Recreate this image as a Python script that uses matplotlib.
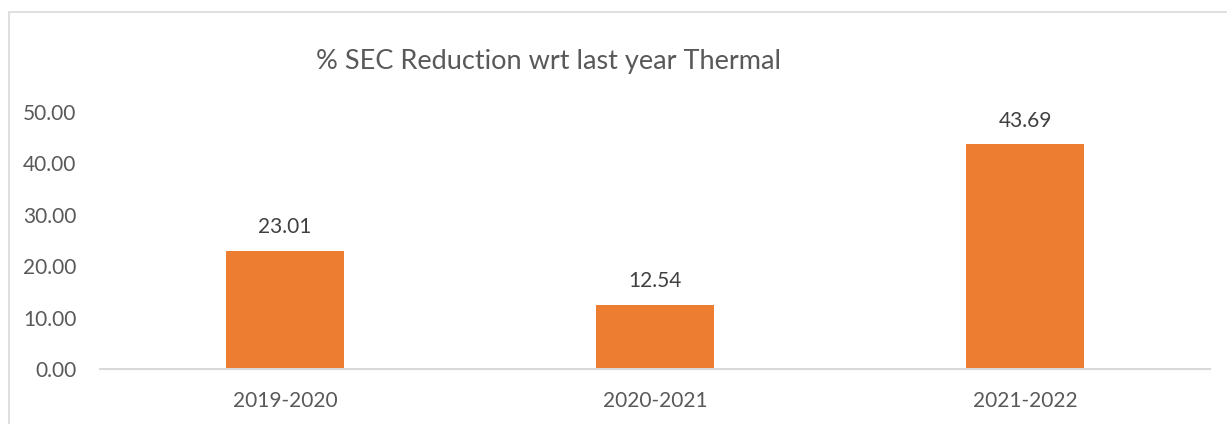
import matplotlib.pyplot as plt
from matplotlib.patches import Rectangle

years = ['2019-2020', '2020-2021', '2021-2022']
reduction = [23.01, 12.54, 43.69]
y_ticks = [0, 10, 20, 30, 40, 50]

plt.rcParams['font.family'] = ['Lato', 'DejaVu Sans']

fig = plt.figure(figsize=(12.27, 4.24), dpi=100)
ax = fig.add_axes([0.0815, 0.1297, 0.9047, 0.6061])

# chart area frame, runs off the right and bottom edges
fig.patches.append(Rectangle((9 / 1227, -0.05), 1.0, 0.05 + 1 - 12 / 424,
                             transform=fig.transFigure, fill=False,
                             edgecolor='#d9d9d9', linewidth=1.2))

x = range(len(years))
bars = ax.bar(x, reduction, width=0.32, color='#ED7D31', zorder=2)
for b, v in zip(bars, reduction):
    ax.annotate('%.2f' % v, (b.get_x() + b.get_width() / 2, v),
                xytext=(0, 12.5), textcoords='offset points',
                ha='center', va='baseline', fontsize=15, color='#404040')

ax.set_xlim(-0.5, len(years) - 0.5)
ax.set_ylim(0, 50)
ax.set_xticks(list(x))
ax.set_xticklabels(years, fontsize=15, color='#595959')
ax.set_yticks(y_ticks)
ax.set_yticklabels(['%.2f' % t for t in y_ticks], fontsize=15, color='#595959')
ax.tick_params(length=0, pad=17)
ax.tick_params(axis='x', pad=16)
for s in ['top', 'right', 'left']:
    ax.spines[s].set_visible(False)
ax.spines['bottom'].set_color('#d9d9d9')
ax.spines['bottom'].set_linewidth(1.5)

fig.text(548 / 1227, 1 - 69 / 424, '% SEC Reduction wrt last year Thermal',
         ha='center', va='baseline', fontsize=19.5, color='#595959')

fig.savefig('out.png', dpi=100, facecolor='white')
